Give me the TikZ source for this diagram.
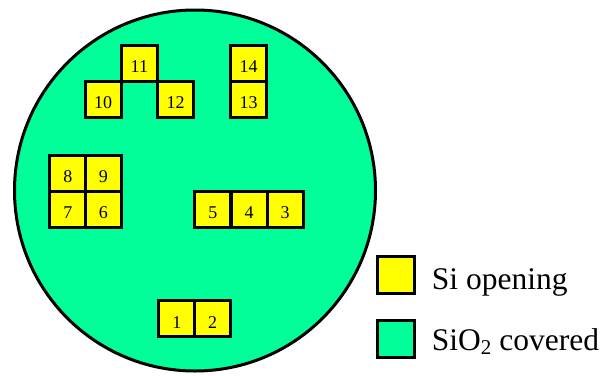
\documentclass[tikz,border=0pt]{standalone}
\usepackage{fontspec}
\setmainfont{Liberation Serif}
\newfontfamily\tms{Liberation Serif}
\definecolor{sio}{HTML}{00FF99}
\definecolor{siy}{HTML}{FFFF00}
\begin{document}
\begin{tikzpicture}[x=1pt,y=-1pt,
  sq/.style={draw=black,line width=3pt,fill=siy,minimum size=36pt,inner sep=0pt,
    text height=19pt,text depth=0pt,font=\tms\fontsize{18}{18}\selectfont},
  legbox/.style={draw=black,line width=3pt,minimum size=37pt,inner sep=0pt},
  legtext/.style={anchor=base west,inner sep=0pt,font=\tms\fontsize{31.5}{31.5}\selectfont}]
\useasboundingbox (0,0) rectangle (601,375);
\node[circle,draw=black,line width=3pt,fill=sio,minimum size=361pt,inner sep=0pt] (wafer) at (195,190.5) {};
% top group
\node[sq] (s11) at (139.4,63.3) {11};
\node[sq] (s10) at (103.2,99) {10};
\node[sq] (s12) at (175.5,99) {12};
\node[sq] (s14) at (248.5,63.3) {14};
\node[sq] (s13) at (248.5,99) {13};
% left block
\node[sq] (s8) at (67.9,173.3) {8};
\node[sq] (s9) at (103.4,173.3) {9};
\node[sq] (s7) at (67.9,209) {7};
\node[sq] (s6) at (103.4,209) {6};
% middle row
\node[sq] (s5) at (212.9,209.2) {5};
\node[sq] (s4) at (249,209.2) {4};
\node[sq] (s3) at (285.2,209.2) {3};
% bottom
\node[sq] (s1) at (176.8,318.8) {1};
\node[sq] (s2) at (212.6,318.8) {2};
% legend
\node[legbox,fill=siy] (ly) at (395.7,275) {};
\node[legbox,fill=sio] (lg) at (395.7,339) {};
\node[legtext] (ty) at (431.7,289) {Si opening};
\node[legtext] (tg) at (431.7,350) {SiO{\fontsize{21}{21}\selectfont\raisebox{-4pt}{2}} covered};
\end{tikzpicture}
\end{document}
